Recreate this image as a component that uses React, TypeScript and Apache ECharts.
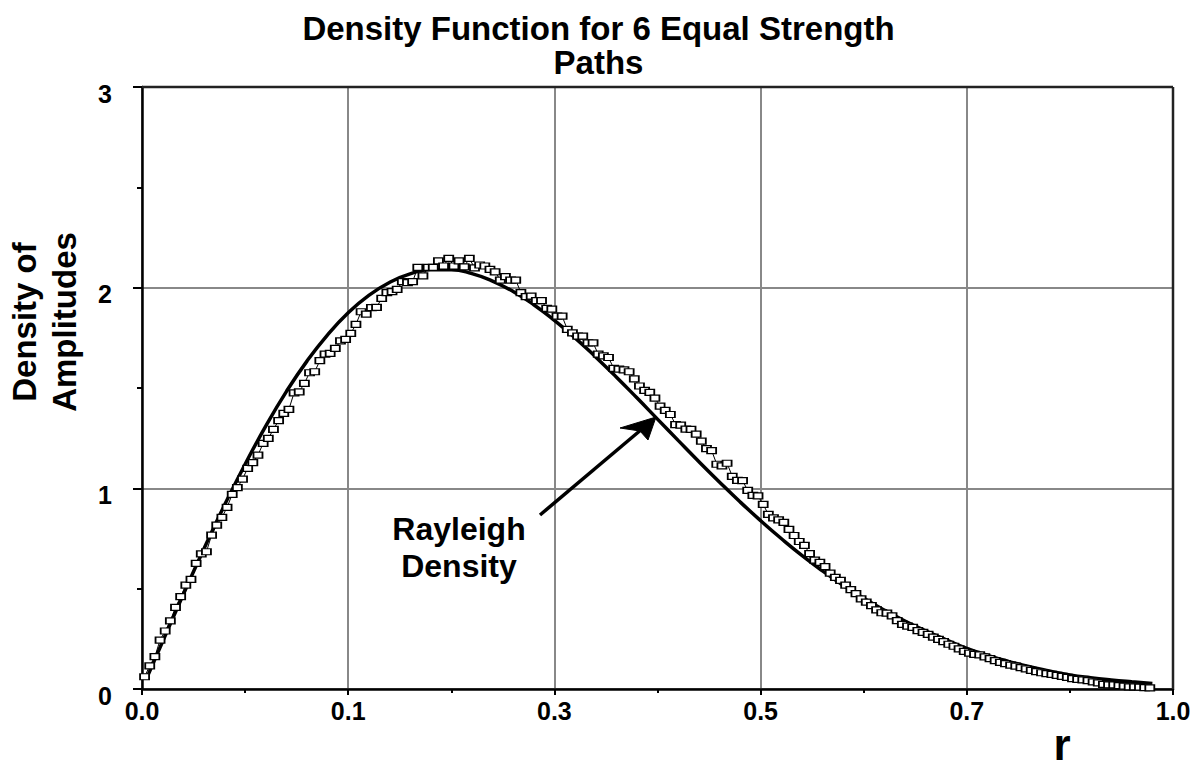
import React, { useEffect, useRef } from "react";
import * as echarts from "echarts";

// ---------------- data ----------------
const TITLE = "Density Function for 6 Equal Strength\nPaths";
const Y_NAME = "Density of\nAmplitudes";
const X_NAME = "r";
const ANNOTATION = "Rayleigh\nDensity";

// printed tick labels of the x axis (positions 0, 0.2, ..., 1.0 of the axis)
const X_TICK_LABELS = ["0.0", "0.1", "0.3", "0.5", "0.7", "1.0"];

// simulated density (hollow squares), sampled on a regular grid of r
const SIM_R_START = 0.0025;
const SIM_R_STEP = 0.005;
const SIM_DENSITY = [
  0.061, 0.115, 0.161, 0.244, 0.289, 0.34, 0.407, 0.46, 0.518, 0.546,
  0.626, 0.673, 0.684, 0.767, 0.817, 0.855, 0.905, 0.97, 1.003, 1.046,
  1.1, 1.128, 1.166, 1.224, 1.249, 1.294, 1.337, 1.374, 1.394, 1.476,
  1.481, 1.523, 1.576, 1.581, 1.636, 1.669, 1.673, 1.697, 1.735, 1.742,
  1.772, 1.817, 1.88, 1.868, 1.9, 1.902, 1.947, 1.975, 1.98, 1.991,
  2.03, 2.025, 2.03, 2.101, 2.059, 2.101, 2.101, 2.133, 2.108, 2.146,
  2.108, 2.133, 2.104, 2.146, 2.099, 2.113, 2.108, 2.091, 2.079, 2.038,
  2.055, 2.038, 2.038, 1.975, 1.955, 1.958, 1.935, 1.935, 1.897, 1.893,
  1.858, 1.858, 1.792, 1.775, 1.759, 1.759, 1.725, 1.725, 1.669, 1.66,
  1.652, 1.598, 1.594, 1.59, 1.581, 1.545, 1.51, 1.488, 1.478, 1.45,
  1.41, 1.388, 1.368, 1.318, 1.315, 1.295, 1.294, 1.27, 1.235, 1.198,
  1.188, 1.12, 1.112, 1.125, 1.06, 1.04, 1.038, 0.99, 0.965, 0.962,
  0.92, 0.87, 0.853, 0.843, 0.83, 0.795, 0.765, 0.735, 0.716, 0.675,
  0.642, 0.631, 0.61, 0.577, 0.556, 0.541, 0.518, 0.495, 0.475, 0.449,
  0.433, 0.416, 0.394, 0.38, 0.378, 0.364, 0.341, 0.322, 0.313, 0.307,
  0.291, 0.282, 0.272, 0.258, 0.247, 0.236, 0.223, 0.213, 0.2, 0.187,
  0.179, 0.173, 0.17, 0.16, 0.151, 0.141, 0.133, 0.126, 0.119, 0.114,
  0.107, 0.1, 0.093, 0.087, 0.081, 0.077, 0.073, 0.068, 0.063, 0.058,
  0.052, 0.048, 0.046, 0.042, 0.036, 0.03, 0.023, 0.021, 0.02, 0.017,
  0.014, 0.011, 0.011, 0.009, 0.007, 0.006,
];

// Rayleigh density (thick solid curve)
const RAYLEIGH_R = [
  0.005, 0.02, 0.04, 0.06, 0.08, 0.1, 0.12, 0.14, 0.16, 0.18,
  0.2, 0.22, 0.24, 0.26, 0.28, 0.3, 0.32, 0.34, 0.36, 0.38,
  0.4, 0.42, 0.44, 0.46, 0.48, 0.5, 0.52, 0.54, 0.56, 0.58,
  0.6, 0.62, 0.64, 0.66, 0.68, 0.7, 0.72, 0.74, 0.76, 0.78,
  0.8, 0.82, 0.84, 0.86, 0.88, 0.9, 0.92, 0.94, 0.96, 0.98,
];
const RAYLEIGH_DENSITY = [
  0.059, 0.237, 0.471, 0.698, 0.916, 1.12, 1.31, 1.482, 1.634, 1.765,
  1.875, 1.962, 2.026, 2.069, 2.089, 2.089, 2.07, 2.033, 1.981, 1.915,
  1.837, 1.75, 1.655, 1.555, 1.451, 1.345, 1.239, 1.134, 1.032, 0.933,
  0.839, 0.75, 0.666, 0.589, 0.517, 0.452, 0.393, 0.339, 0.29, 0.245,
  0.202, 0.168, 0.138, 0.112, 0.09, 0.07, 0.056, 0.045, 0.036, 0.028,
];

const FONT = "'Liberation Sans', Arial, Helvetica, sans-serif";

export default function App() {
  const ref = useRef<HTMLDivElement>(null);

  useEffect(() => {
    if (!ref.current) return;
    const chart = echarts.init(ref.current, undefined, { renderer: "svg" });

    const simData = SIM_DENSITY.map((v, i) => [SIM_R_START + SIM_R_STEP * i, v]);
    const rayData = RAYLEIGH_R.map((r, i) => [r, RAYLEIGH_DENSITY[i]]);

    const option: any = {
      animation: false,
      backgroundColor: "#ffffff",
      title: {
        text: TITLE,
        left: "center",
        top: 6,
        textStyle: {
          fontFamily: FONT,
          fontWeight: "bold",
          fontSize: 33,
          lineHeight: 34,
          color: "#000",
        },
      },
      grid: {
        left: 142,
        right: 24,
        top: 87,
        bottom: 79,
        show: false,
      },
      xAxis: {
        type: "value",
        min: 0,
        max: 1,
        interval: 0.2,
        axisLine: { show: true, onZero: false, lineStyle: { color: "#000", width: 2.5 } },
        axisTick: { show: true, length: 6, lineStyle: { color: "#000", width: 2 } },
        minorTick: { show: true, splitNumber: 2, length: 4, lineStyle: { color: "#000", width: 2 } },
        splitLine: { show: true, lineStyle: { color: "#888", width: 2 } },
        axisLabel: {
          margin: 9,
          fontFamily: FONT,
          fontWeight: "bold",
          fontSize: 25,
          color: "#000",
          formatter: (v: number) => X_TICK_LABELS[Math.round(v / 0.2)] ?? "",
        },
      },
      yAxis: {
        type: "value",
        min: 0,
        max: 3,
        interval: 1,
        axisLine: { show: true, onZero: false, lineStyle: { color: "#000", width: 2.5 } },
        axisTick: { show: true, length: 9, lineStyle: { color: "#000", width: 2 } },
        minorTick: { show: true, splitNumber: 2, length: 5, lineStyle: { color: "#000", width: 2 } },
        splitLine: { show: true, lineStyle: { color: "#888", width: 2 } },
        axisLabel: {
          margin: 30,
          verticalAlign: "top",
          lineHeight: 13,
          fontFamily: FONT,
          fontWeight: "bold",
          fontSize: 25,
          color: "#000",
        },
      },
      series: [
        {
          name: "Rayleigh Density",
          type: "line",
          data: rayData,
          smooth: true,
          showSymbol: false,
          symbol: "none",
          lineStyle: { color: "#000", width: 3.5 },
          z: 2,
        },
        {
          name: "Simulation",
          type: "line",
          data: simData,
          symbol: "rect",
          symbolSize: [9, 6],
          showAllSymbol: true,
          lineStyle: { color: "#000", width: 1 },
          itemStyle: { color: "#fff", borderColor: "#000", borderWidth: 1.5 },
          z: 3,
        },
      ],
      graphic: [
        // top and right frame of the plot area
        {
          type: "line",
          shape: { x1: 142, y1: 87, x2: 1173, y2: 87 },
          style: { stroke: "#222", lineWidth: 2.5 },
          z: 10,
        },
        {
          type: "line",
          shape: { x1: 1173, y1: 87, x2: 1173, y2: 689 },
          style: { stroke: "#222", lineWidth: 2.5 },
          z: 10,
        },
        {
          type: "text",
          x: 44,
          y: 322,
          rotation: Math.PI / 2,
          style: {
            text: Y_NAME,
            fill: "#000",
            font: `bold 33px ${FONT}`,
            lineHeight: 40,
            textAlign: "center",
            textVerticalAlign: "middle",
          },
        },
        {
          type: "text",
          x: 1062,
          y: 744,
          style: {
            text: X_NAME,
            fill: "#000",
            font: `bold 44px ${FONT}`,
            lineHeight: 36,
            textAlign: "center",
            textVerticalAlign: "middle",
          },
        },
        {
          type: "text",
          x: 459,
          y: 547,
          style: {
            text: ANNOTATION,
            fill: "#000",
            font: `bold 32px ${FONT}`,
            lineHeight: 37,
            textAlign: "center",
            textVerticalAlign: "middle",
          },
        },
        {
          type: "line",
          shape: { x1: 540, y1: 515, x2: 642, y2: 429 },
          style: { stroke: "#000", lineWidth: 3.5 },
          z: 20,
        },
        {
          type: "polygon",
          shape: { points: [[656, 417], [620, 428], [640, 431], [648, 440]] },
          style: { fill: "#000", stroke: "#000", lineWidth: 1 },
          z: 20,
        },
      ],
    };

    chart.setOption(option);
    return () => chart.dispose();
  }, []);

  return (
    <div
      ref={ref}
      style={{ position: "fixed", left: 0, top: 0, width: 1197, height: 768, background: "#fff" }}
    />
  );
}
